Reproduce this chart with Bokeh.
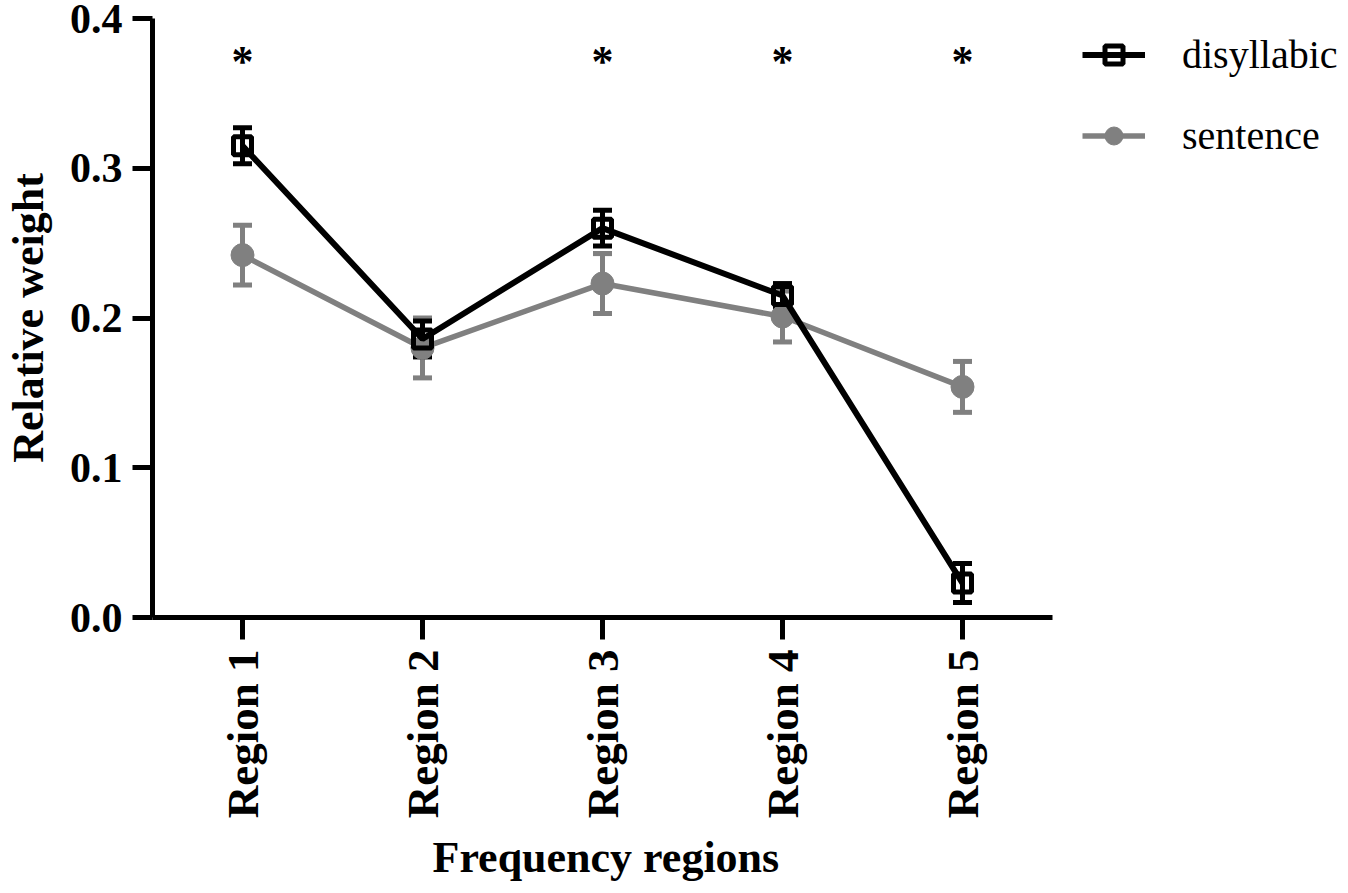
from bokeh.plotting import figure
from bokeh.models import (ColumnDataSource, Whisker, TeeHead, Legend, LegendItem,
                          FixedTicker, Range1d, Title)
from bokeh.core.properties import value
from bokeh.embed import file_html
from bokeh.resources import INLINE

regions = ["Region 1", "Region 2", "Region 3", "Region 4", "Region 5"]
disyllabic = [0.315, 0.186, 0.260, 0.215, 0.023]
disyllabic_err = [0.012, 0.012, 0.012, 0.008, 0.013]
sentence = [0.242, 0.180, 0.223, 0.201, 0.154]
sentence_err = [0.020, 0.020, 0.020, 0.017, 0.017]
star_regions = ["Region 1", "Region 3", "Region 4", "Region 5"]
star_y = [0.371, 0.371, 0.371, 0.371]
y_ticks = [0.0, 0.1, 0.2, 0.3, 0.4]

FONT = "Liberation Serif"
BLACK = "#000000"
GRAY = "#808080"

LEFT, TOP, FH = 147, 18, 599
FW = 1340 - LEFT
xpos = list(range(1, len(regions) + 1))
pos_of = dict(zip(regions, xpos))
x_end = 0.5 + FW / 180.0

p = figure(x_range=Range1d(0.5, x_end), y_range=Range1d(0, 0.4),
           frame_width=FW, frame_height=FH,
           output_backend="svg", toolbar_location=None,
           min_border_left=LEFT, min_border_right=0, min_border_top=TOP,
           min_border_bottom=0)
p.outline_line_color = None
p.xgrid.grid_line_color = None
p.ygrid.grid_line_color = None
p.background_fill_color = "white"
p.border_fill_color = "white"

for ax in (p.xaxis[0], p.yaxis[0]):
    ax.axis_line_width = 5
    ax.axis_line_color = BLACK
    ax.major_tick_line_width = 5
    ax.major_tick_line_color = BLACK
    ax.major_tick_in = 0
    ax.minor_tick_line_color = None
    ax.major_label_text_font = FONT
    ax.major_label_text_font_style = "bold"
    ax.major_label_text_color = BLACK
    ax.axis_label_text_font = FONT
    ax.axis_label_text_font_style = "bold"
    ax.axis_label_text_color = BLACK

p.yaxis.ticker = FixedTicker(ticks=y_ticks)
p.yaxis.major_label_overrides = {t: f"{t:.1f}" for t in y_ticks}
p.yaxis.major_tick_out = 20
p.yaxis.major_label_standoff = 10
p.yaxis.major_label_text_font_size = "42px"
p.yaxis.axis_label = "Relative weight"
p.yaxis.axis_label_text_font_size = "44px"
p.yaxis.axis_label_standoff = 14

p.xaxis.bounds = (0.5, 5.5)
p.xaxis.ticker = FixedTicker(ticks=xpos)
p.xaxis.major_label_overrides = {i: r for i, r in zip(xpos, regions)}
p.xaxis.major_tick_out = 22
p.xaxis.major_label_standoff = 10
p.xaxis.major_label_orientation = 3.14159265 / 2
p.xaxis.major_label_text_font_size = "45px"

# x-axis title, placed under the drawn axis (frame is wider because of the legend)
xt = Title(text="Frequency regions", align="left", offset=280,
           text_font=FONT, text_font_style="bold", text_font_size="44px",
           text_color=BLACK, standoff=19)
p.add_layout(xt, "below")

src_s = ColumnDataSource(dict(x=[pos_of[r] for r in regions], y=sentence,
                              lo=[v - e for v, e in zip(sentence, sentence_err)],
                              hi=[v + e for v, e in zip(sentence, sentence_err)]))
src_d = ColumnDataSource(dict(x=[pos_of[r] for r in regions], y=disyllabic,
                              lo=[v - e for v, e in zip(disyllabic, disyllabic_err)],
                              hi=[v + e for v, e in zip(disyllabic, disyllabic_err)]))

# sentence series (underneath)
ws = Whisker(source=src_s, base="x", upper="hi", lower="lo", line_color=GRAY, line_width=5,
             upper_head=TeeHead(size=19, line_width=5, line_color=GRAY),
             lower_head=TeeHead(size=19, line_width=5, line_color=GRAY))
p.add_layout(ws)
ls = p.line("x", "y", source=src_s, line_color=GRAY, line_width=5.5)
cs = p.scatter("x", "y", source=src_s, marker="circle", size=23, fill_color=GRAY,
               line_color=GRAY, line_width=1)

# disyllabic series
wd = Whisker(source=src_d, base="x", upper="hi", lower="lo", line_color=BLACK, line_width=5,
             upper_head=TeeHead(size=19, line_width=5, line_color=BLACK),
             lower_head=TeeHead(size=19, line_width=5, line_color=BLACK))
p.add_layout(wd)
ld = p.line("x", "y", source=src_d, line_color=BLACK, line_width=6)
sd = p.scatter("x", "y", source=src_d, marker="square", size=18, fill_color=None,
               line_color=BLACK, line_width=5)

# significance stars
p.text(x=[pos_of[r] for r in star_regions], y=star_y, text=["*"] * len(star_regions),
       text_font=value(FONT), text_font_style="bold", text_font_size="44px",
       text_align="center", text_baseline="alphabetic", text_color=BLACK)

legend = Legend(items=[LegendItem(label="disyllabic", renderers=[ld, sd]),
                       LegendItem(label="sentence", renderers=[ls, cs])],
                location=(930, 458), orientation="vertical",
                glyph_width=63, glyph_height=45, label_height=45,
                label_standoff=37, spacing=34, padding=0, margin=0,
                label_text_font=FONT, label_text_font_size="40px",
                label_text_color=BLACK, border_line_color=None,
                background_fill_alpha=0)
p.add_layout(legend, "center")

open("out.html", "w").write(file_html(p, INLINE))
